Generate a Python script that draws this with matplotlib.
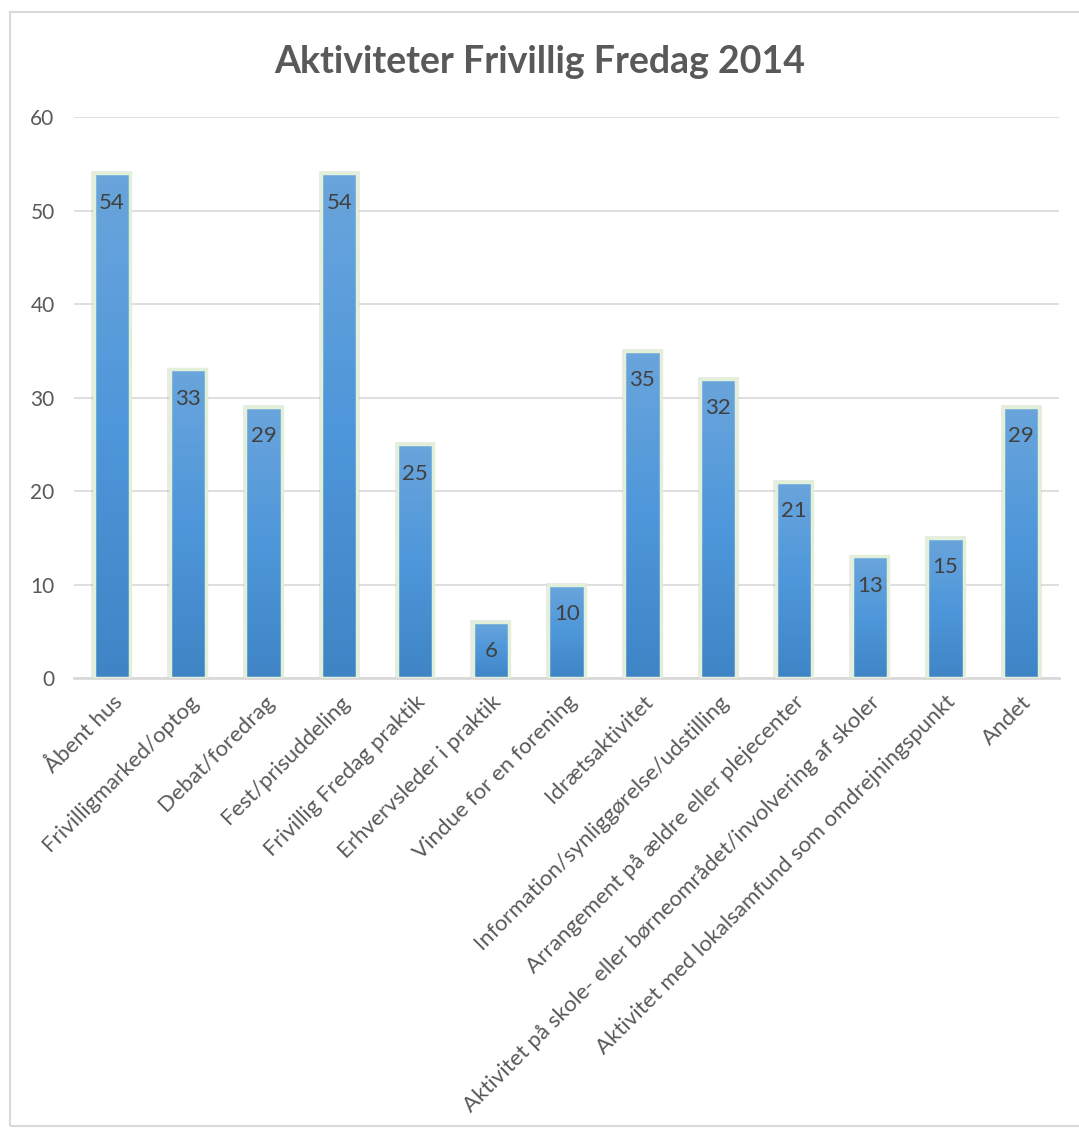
import matplotlib

matplotlib.use("Agg")
import matplotlib.pyplot as plt  # noqa: E402
import numpy as np  # noqa: E402
from matplotlib.colors import LinearSegmentedColormap  # noqa: E402
from matplotlib.patches import Rectangle  # noqa: E402

plt.rcParams["font.family"] = ["Lato", "DejaVu Sans"]

# Data
categories = [
    "Åbent hus",
    "Frivilligmarked/optog",
    "Debat/foredrag",
    "Fest/prisuddeling",
    "Frivillig Fredag praktik",
    "Erhvervsleder i praktik",
    "Vindue for en forening",
    "Idrætsaktivitet",
    "Information/synliggørelse/udstilling",
    "Arrangement på ældre eller plejecenter",
    "Aktivitet på skole- eller børneområdet/involvering af skoler",
    "Aktivitet med lokalsamfund som omdrejningspunkt",
    "Andet",
]
values = [54, 33, 29, 54, 25, 6, 10, 35, 32, 21, 13, 15, 29]
title = "Aktiviteter Frivillig Fredag 2014"

fig = plt.figure(figsize=(10.79, 11.31), dpi=100)
ax = fig.add_axes([0.0686, 0.4005, 0.913, 0.496])

# ramme om diagrammet
fig.patches.append(Rectangle((0.009, 0.004), 1.2, 0.985, transform=fig.transFigure,
                             fill=False, edgecolor="#d9d9d9", linewidth=1.5))

x = np.arange(len(categories))
bars = ax.bar(x, values, width=0.48, color="none", edgecolor="#e2efd9",
              linewidth=2.5, zorder=3)

cmap = LinearSegmentedColormap.from_list("blu", ["#3f85c6", "#4e97da", "#6aa5dc"])
grad = np.linspace(0, 1, 256).reshape(-1, 1)
for b in bars:
    x0, y0 = b.get_x(), b.get_y()
    w, h = b.get_width(), b.get_height()
    # svag skygge
    ax.add_patch(Rectangle((x0 - 0.03, y0), w + 0.06, h + 0.2, facecolor="#000000",
                           alpha=0.08, edgecolor="none", zorder=2))
    im = ax.imshow(grad, cmap=cmap, aspect="auto", origin="lower",
                   extent=[x0, x0 + w, y0, y0 + h], zorder=2.5)
    im.set_clip_path(b)

for xi, v in zip(x, values):
    ax.annotate(str(v), (xi, v), xytext=(0, -14), textcoords="offset points",
                ha="center", va="top", fontsize=16, color="#404040", zorder=4)

ax.set_xlim(-0.5, len(categories) - 0.5)
ax.set_ylim(0, 60)
ax.set_yticks(range(0, 61, 10))
ax.grid(axis="y", color="#d9d9d9", linewidth=1.2, zorder=0)
ax.set_axisbelow(True)
for s in ["top", "right", "left"]:
    ax.spines[s].set_visible(False)
ax.spines["bottom"].set_color("#d9d9d9")
ax.spines["bottom"].set_linewidth(2)
ax.tick_params(axis="both", length=0, labelcolor="#595959")
ax.tick_params(axis="y", pad=14, labelsize=15)
ax.tick_params(axis="x", pad=10, labelsize=16)
ax.set_xticks(x)
ax.set_xticklabels(categories, rotation=45, ha="right", rotation_mode="anchor")

fig.text(0.5, 0.945, title, ha="center", va="center", fontsize=27,
         fontweight="bold", color="#595959")

fig.savefig("out.png", dpi=100)
